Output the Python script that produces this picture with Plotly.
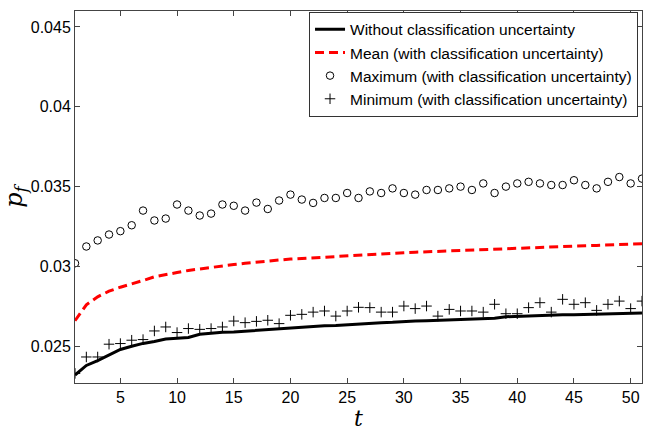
import plotly.graph_objects as go

t = list(range(1, 52))

without_unc = [0.0232, 0.0238, 0.0241, 0.02445, 0.0248, 0.0250, 0.02518, 0.0253, 0.02545, 0.0255,
               0.02555, 0.02575, 0.02582, 0.02588, 0.0259, 0.02595, 0.0260, 0.02605, 0.0261, 0.02612,
               0.02618, 0.02622, 0.02628, 0.0263, 0.02635, 0.0264, 0.02645, 0.02648, 0.0265, 0.02655,
               0.02658, 0.0266, 0.02663, 0.02665, 0.02668, 0.0267, 0.02672, 0.02675, 0.02685, 0.02688,
               0.0269, 0.02692, 0.02695, 0.02697, 0.02698, 0.0270, 0.02702, 0.02703, 0.02705, 0.02706,
               0.02708]

mean_unc = [0.0266, 0.0276, 0.0281, 0.02845, 0.0287, 0.0289, 0.02912, 0.02935, 0.0295, 0.02962,
            0.02975, 0.02985, 0.02995, 0.03005, 0.03012, 0.0302, 0.03028, 0.03035, 0.0304, 0.03046,
            0.0305, 0.03055, 0.0306, 0.03065, 0.0307, 0.03073, 0.03076, 0.0308, 0.03083, 0.03086,
            0.03089, 0.03092, 0.03095, 0.03098, 0.0310, 0.03103, 0.03106, 0.03109, 0.03112, 0.03114,
            0.03117, 0.0312, 0.03122, 0.03125, 0.03127, 0.0313, 0.03132, 0.03135, 0.03137, 0.0314,
            0.03142]

max_unc = [0.0302, 0.03125, 0.03163, 0.0320, 0.03221, 0.03258, 0.0335, 0.03288, 0.0330, 0.03388,
           0.0335, 0.03319, 0.03331, 0.03388, 0.0338, 0.0335, 0.0340, 0.0336, 0.03413, 0.0345,
           0.03419, 0.03398, 0.03429, 0.03429, 0.0346, 0.03429, 0.0347, 0.0346, 0.03489, 0.0346,
           0.0345, 0.03479, 0.03479, 0.03489, 0.0350, 0.03479, 0.0352, 0.0346, 0.0350, 0.0352,
           0.0353, 0.0352, 0.0351, 0.0351, 0.0354, 0.0351, 0.03489, 0.0353, 0.0356, 0.0352,
           0.0355]

min_unc = [0.0233, 0.02433, 0.02433, 0.02513, 0.02517, 0.02538, 0.02542, 0.02596, 0.02621, 0.02586,
           0.02611, 0.02606, 0.02611, 0.02621, 0.02658, 0.02648, 0.02656, 0.02663, 0.02642, 0.02694,
           0.0270, 0.02714, 0.02721, 0.02689, 0.02721, 0.02744, 0.02742, 0.02714, 0.02714, 0.02752,
           0.02736, 0.02752, 0.02689, 0.02731, 0.02721, 0.02721, 0.02714, 0.02763, 0.02704, 0.02704,
           0.02742, 0.02773, 0.02714, 0.02794, 0.02763, 0.02773, 0.02725, 0.02763, 0.02783, 0.02736,
           0.02783]

x_ticks = [5, 10, 15, 20, 25, 30, 35, 40, 45, 50]
y_ticks = [0.025, 0.03, 0.035, 0.04, 0.045]
y_tick_text = ["0.025", "0.03", "0.035", "0.04", "0.045"]

fig = go.Figure()
fig.add_trace(go.Scatter(x=t, y=without_unc, mode="lines", name="Without classification uncertainty",
                         line=dict(color="black", width=3)))
fig.add_trace(go.Scatter(x=t, y=mean_unc, mode="lines", name="Mean (with classification uncertainty)",
                         line=dict(color="#ff0000", width=3, dash="9px,5px")))
fig.add_trace(go.Scatter(x=t, y=max_unc, mode="markers", name="Maximum (with classification uncertainty)",
                         marker=dict(symbol="circle-open", size=7.5, color="black", line=dict(width=1))))
fig.add_trace(go.Scatter(x=t, y=min_unc, mode="markers", name="Minimum (with classification uncertainty)",
                         marker=dict(symbol="cross-thin-open", size=7.5, color="black", line=dict(width=1, color="black"))))

axis_common = dict(showgrid=False, zeroline=False, showline=True, linecolor="#444", linewidth=1,
                   mirror="ticks", ticks="inside", ticklen=5, tickcolor="#444",
                   tickfont=dict(family="Liberation Sans, Arial", size=16, color="black"))

fig.update_layout(
    width=647, height=433,
    margin=dict(l=75, r=5, t=11, b=50),
    paper_bgcolor="white", plot_bgcolor="white",
    showlegend=True,
    legend=dict(x=0.993, y=0.998, xanchor="right", yanchor="top",
                bgcolor="white", bordercolor="#333", borderwidth=1,
                font=dict(family="Liberation Sans, Arial", size=15.5, color="black"),
                tracegroupgap=0, itemwidth=30),
    xaxis=dict(range=[1, 51], tickvals=x_ticks,
               title=dict(text="<i>t</i>", font=dict(family="DejaVu Serif, serif", size=22, color="black"),
                          standoff=2),
               **axis_common),
    yaxis=dict(range=[0.0227, 0.046], tickvals=y_ticks, ticktext=y_tick_text,
               title=dict(text="<i>p<sub>f</sub></i>", font=dict(family="DejaVu Serif, serif", size=24, color="black"),
                          standoff=8),
               **axis_common),
)

fig.write_html("out.html")
